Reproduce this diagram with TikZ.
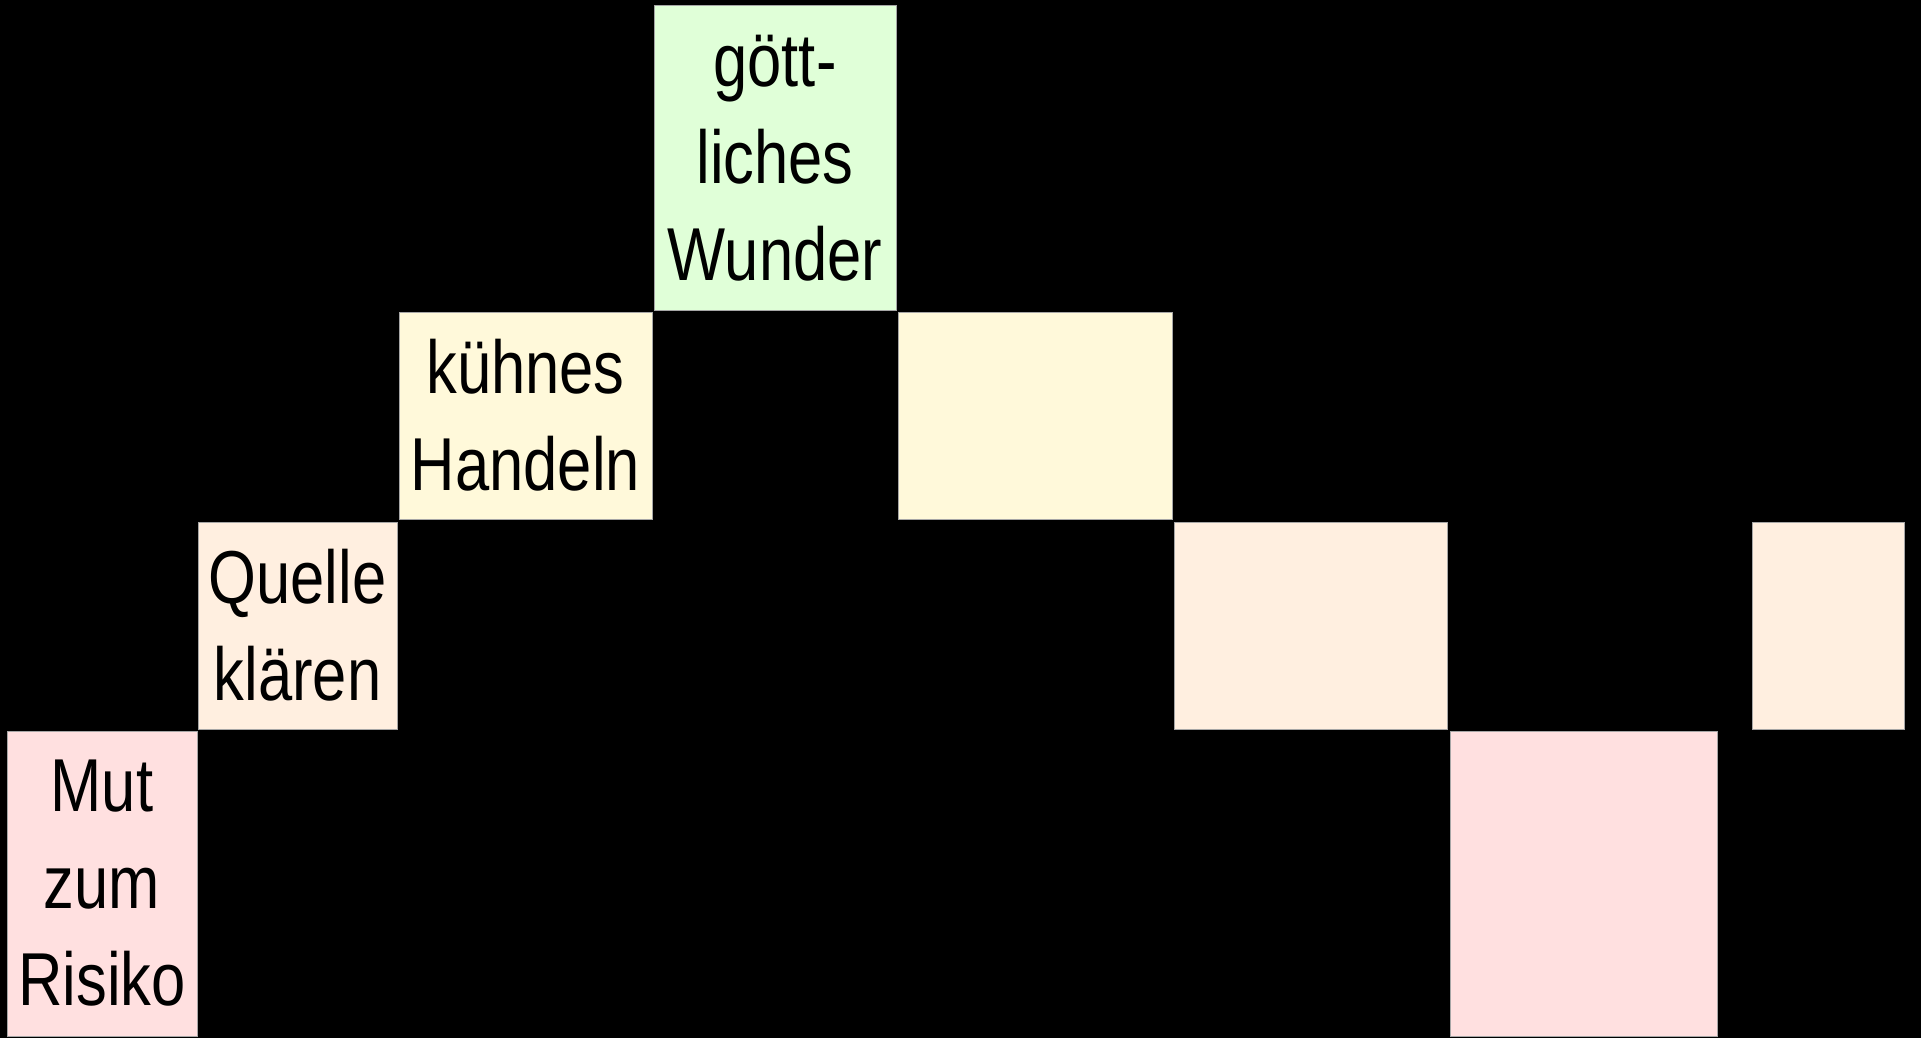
\documentclass[tikz,border=0pt]{standalone}
\usepackage{fontspec}
\newfontfamily\boxfont[FakeStretch=0.82]{Liberation Sans}
\definecolor{wundergreen}{HTML}{E0FFD8}
\definecolor{handelnyellow}{HTML}{FFF9DA}
\definecolor{quellepeach}{HTML}{FFEFE0}
\definecolor{risikopink}{HTML}{FFE0E0}
\usetikzlibrary{positioning}

\begin{document}
\begin{tikzpicture}[x=1pt, y=-1pt,
		stepbox/.style={draw=gray!70, line width=1pt, rectangle, anchor=north west, inner sep=0pt, outer sep=0pt, align=center, font={\boxfont\fontsize{75}{97}\selectfont}}]
		\fill[black] (0, 0) rectangle (1921, 1038);
		\useasboundingbox (0, 0) rectangle (1921, 1038);
		% top
		\node[stepbox, minimum width=242pt, minimum height=304pt, fill=wundergreen] (wunder) at (654, 6) {gött-\\liches\\Wunder};
		% second row
		\node[stepbox, minimum width=253pt, minimum height=207pt, fill=handelnyellow] (handeln) at (399, 312) {kühnes\\Handeln};
		\node[stepbox, minimum width=274pt, minimum height=207pt, fill=handelnyellow] (handelnB) at (898, 312) {};
		% third row
		\node[stepbox, minimum width=199pt, minimum height=207pt, fill=quellepeach] (quelle) at (198, 522) {Quelle\\klären};
		\node[stepbox, minimum width=273pt, minimum height=207pt, fill=quellepeach] (quelleB) at (1174, 522) {};
		\node[stepbox, minimum width=152pt, minimum height=207pt, fill=quellepeach] (quelleC) at (1752, 522) {};
		% bottom row
		\node[stepbox, minimum width=190pt, minimum height=305pt, fill=risikopink] (risiko) at (7, 731) {Mut\\zum\\Risiko};
		\node[stepbox, minimum width=267pt, minimum height=305pt, fill=risikopink] (risikoB) at (1450, 731) {};
	\end{tikzpicture}
\end{document}
